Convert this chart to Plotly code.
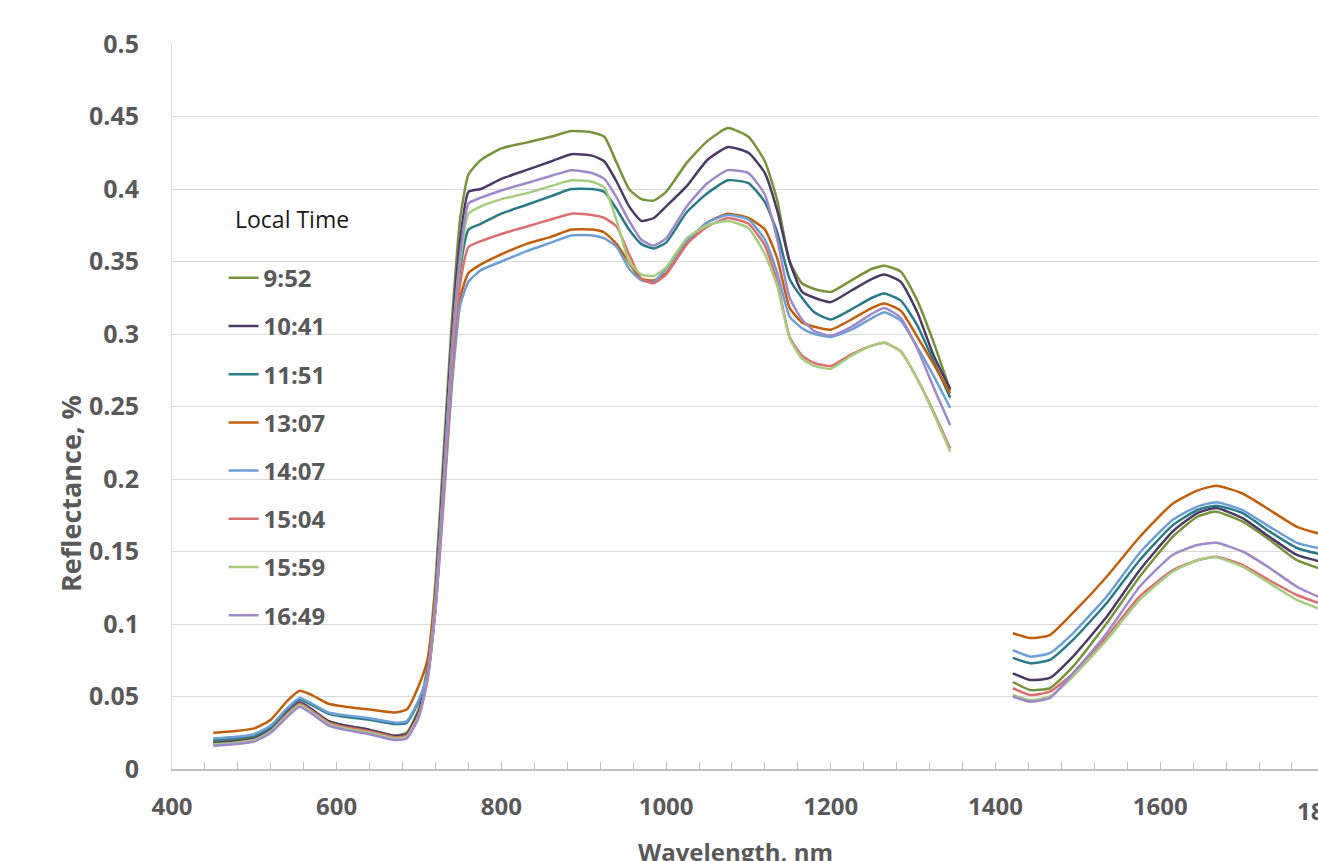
import plotly.graph_objects as go

# ---- data ----
wavelength = [450, 475, 500, 520, 540, 555, 570, 590, 610, 640, 670, 685, 700,
              710, 720, 730, 740, 750, 760,
              775, 800, 830, 860, 885, 910, 925,
              940, 955, 970, 985, 1000,
              1025, 1050, 1075, 1100, 1120,
              1135, 1150, 1165, 1180,
              1200, 1225, 1250, 1265, 1285, 1305, 1325, 1345,
              1380,
              1421, 1442, 1466, 1494, 1535, 1575, 1615, 1645, 1668, 1700, 1733, 1766, 1795]

times = ["9:52", "10:41", "11:51", "13:07", "14:07", "15:04", "15:59", "16:49"]

r_0952 = [.019, .020, .022, .028, .040, .046, .041, .033, .030, .027, .023, .025, .042,
          .070, .130, .220, .310, .380, .410,
          .420, .428, .432, .436, .440, .439, .436,
          .418, .400, .393, .392, .398,
          .418, .433, .442, .436, .419,
          .392, .350, .335, .331,
          .329, .337, .345, .347, .343, .323, .294, .261,
          None,
          .060, .0545, .0557, .0706, .1005, .1326, .160, .174, .1775, .1706, .158, .144, .138]

r_1041 = [.018, .019, .021, .027, .039, .046, .041, .033, .030, .027, .023, .024, .040,
          .065, .120, .210, .300, .365, .398,
          .400, .407, .413, .419, .424, .423, .419,
          .405, .388, .378, .380, .388,
          .402, .420, .429, .425, .411,
          .385, .350, .329, .325,
          .322, .330, .338, .341, .336, .315, .285, .262,
          None,
          .066, .0614, .0628, .0775, .105, .137, .1637, .1765, .180, .173, .160, .1476, .143]

r_1151 = [.020, .021, .023, .029, .041, .048, .044, .038, .036, .034, .031, .032, .047,
          .062, .112, .195, .280, .345, .372,
          .376, .383, .389, .395, .400, .400, .398,
          .386, .372, .362, .359, .363,
          .384, .397, .406, .404, .391,
          .370, .338, .325, .315,
          .310, .317, .325, .328, .323, .306, .281, .256,
          None,
          .0766, .073, .0752, .089, .1145, .144, .168, .1786, .1816, .1765, .1637, .1524, .148]

r_1307 = [.025, .026, .028, .034, .047, .054, .051, .045, .043, .041, .039, .041, .058,
          .075, .120, .190, .270, .325, .342,
          .348, .355, .362, .367, .372, .372, .370,
          .362, .349, .338, .337, .342,
          .362, .377, .383, .380, .372,
          .352, .318, .308, .305,
          .303, .310, .318, .321, .316, .298, .279, .259,
          None,
          .0936, .0903, .0924, .1076, .1326, .160, .183, .192, .1954, .190, .1786, .167, .162]

r_1407 = [.021, .022, .024, .030, .042, .049, .045, .039, .037, .035, .032, .033, .048,
          .065, .110, .185, .265, .320, .336,
          .344, .350, .357, .363, .368, .368, .366,
          .360, .345, .337, .336, .345,
          .364, .377, .382, .379, .365,
          .342, .312, .304, .300,
          .298, .303, .311, .315, .309, .291, .271, .249,
          None,
          .082, .0775, .080, .0936, .119, .149, .1717, .181, .184, .1786, .167, .156, .152]

r_1504 = [.017, .018, .020, .026, .038, .045, .040, .032, .029, .026, .022, .023, .038,
          .060, .110, .190, .275, .335, .360,
          .364, .369, .374, .379, .383, .382, .380,
          .374, .355, .338, .335, .341,
          .362, .374, .380, .376, .361,
          .336, .298, .285, .280,
          .278, .286, .292, .294, .288, .269, .246, .221,
          None,
          .0557, .051, .0533, .066, .091, .119, .137, .144, .1464, .1407, .130, .120, .114]

r_1559 = [.017, .018, .020, .026, .037, .044, .039, .031, .028, .025, .021, .022, .037,
          .062, .115, .200, .290, .350, .383,
          .388, .393, .397, .402, .406, .405, .401,
          .378, .350, .341, .340, .346,
          .366, .375, .378, .373, .355,
          .333, .297, .283, .278,
          .276, .285, .292, .294, .288, .269, .245, .219,
          None,
          .051, .0476, .050, .0637, .089, .1166, .136, .144, .146, .1395, .128, .1166, .110]

r_1649 = [.016, .017, .019, .025, .036, .043, .038, .030, .027, .024, .020, .021, .036,
          .062, .115, .200, .290, .355, .390,
          .394, .399, .404, .409, .413, .411, .407,
          .394, .378, .365, .361, .366,
          .388, .404, .413, .411, .396,
          .365, .325, .310, .302,
          .299, .305, .314, .318, .311, .290, .263, .237,
          None,
          .050, .0464, .049, .066, .0936, .1257, .1476, .1545, .156, .150, .1386, .1257, .118]

series = [r_0952, r_1041, r_1151, r_1307, r_1407, r_1504, r_1559, r_1649]
colors = ["#77933C", "#4B3A66", "#2A7A87", "#C0600E", "#6E9ED6", "#D9706F", "#A6CC7F", "#9F89C9"]

x_tick_vals = [400, 600, 800, 1000, 1200, 1400, 1600]
y_tick_vals = [0, 0.05, 0.1, 0.15, 0.2, 0.25, 0.3, 0.35, 0.4, 0.45, 0.5]

# ---- figure ----
FONT = "Open Sans"
GREY = "#595959"

fig = go.Figure()
for name, vals, col in zip(times, series, colors):
    fig.add_trace(go.Scatter(
        x=wavelength, y=vals, name=name, mode="lines",
        line=dict(color=col, width=2.5, shape="spline", smoothing=0.5),
        connectgaps=False, legendgroup=name,
    ))

x_min, x_max = 400, 1791.6

fig.update_layout(
    width=1318, height=861,
    margin=dict(l=172, r=0, t=44, b=92),
    paper_bgcolor="white", plot_bgcolor="white",
    font=dict(family=FONT, color=GREY),
    showlegend=True,
    legend=dict(
        x=0.045, y=0.708, xanchor="left", yanchor="top",
        bgcolor="rgba(0,0,0,0)",
        font=dict(size=24, color=GREY, family=FONT, weight="bold"),
        tracegroupgap=14,
        itemwidth=30,
    ),
    xaxis=dict(
        range=[x_min, x_max],
        tickvals=x_tick_vals,
        ticks="inside", ticklen=7, tickcolor="#BFBFBF", tickwidth=1,
        minor=dict(dtick=40, tick0=400, ticks="inside", ticklen=7, tickcolor="#BFBFBF", showgrid=False),
        showline=True, linecolor="#BFBFBF", linewidth=1.5,
        showgrid=False, zeroline=False,
        tickfont=dict(size=24, family=FONT, color=GREY, weight="bold"),
        ticklabelstandoff=15,
    ),
    yaxis=dict(
        range=[0, 0.5],
        tickvals=y_tick_vals,
        ticktext=["0", "0.05", "0.1", "0.15", "0.2", "0.25", "0.3", "0.35", "0.4", "0.45", "0.5"],
        showgrid=True, gridcolor="#D9D9D9", gridwidth=1,
        showline=True, linecolor="#D9D9D9", linewidth=1,
        zeroline=False, ticks="",
        tickfont=dict(size=25, family=FONT, color=GREY, weight="bold"),
        ticklabelstandoff=27,
    ),
)

# legend heading
fig.add_annotation(
    x=(233 - 172) / 1146, y=(769 - 219) / 725, xref="paper", yref="paper",
    text="Local Time", showarrow=False, xanchor="left", yanchor="middle",
    font=dict(size=23, family=FONT, color="#1A1A1A"),
)
# cut-off "1800" tick label at the right edge
fig.add_annotation(
    x=(1800 - x_min) / (x_max - x_min), y=0, xref="paper", yref="paper",
    text="1800", showarrow=False, xanchor="center", yanchor="top", yshift=-23,
    font=dict(size=24, family=FONT, color=GREY, weight="bold"),
)
# axis titles
fig.add_annotation(
    x=(735 - 172) / 1146, y=(769 - 852) / 725, xref="paper", yref="paper",
    text="Wavelength, nm", showarrow=False, xanchor="center", yanchor="middle",
    font=dict(size=24, family=FONT, color=GREY, weight="bold"),
)
fig.add_annotation(
    x=(70 - 172) / 1146, y=(769 - 494) / 725, xref="paper", yref="paper",
    text="Reflectance, %", showarrow=False, textangle=-90, xanchor="center", yanchor="middle",
    font=dict(size=27, family=FONT, color=GREY, weight="bold"),
)

fig.write_html("out.html")
